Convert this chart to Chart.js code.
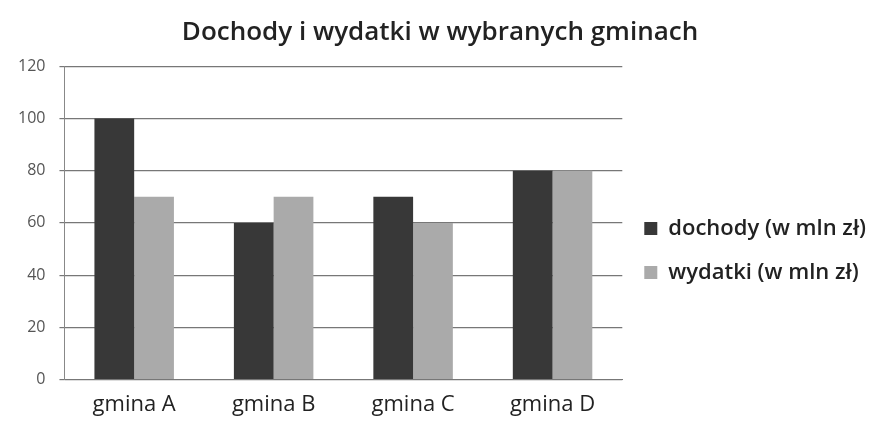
<!DOCTYPE html>
<html><head><meta charset="utf-8">
<script src="https://cdn.jsdelivr.net/npm/chart.js@4"></script>
<style>html,body{margin:0;padding:0;background:#fff}#wrap{width:880px;height:425px}</style>
</head><body><div id="wrap"><canvas id="c" width="880" height="425"></canvas></div>
<script>
const categories = ["gmina A", "gmina B", "gmina C", "gmina D"];
const dochody = [100, 60, 70, 80];
const wydatki = [70, 70, 60, 80];
const seriesNames = ["dochody (w mln zł)", "wydatki (w mln zł)"];
const titleText = "Dochody i wydatki w wybranych gminach";

new Chart(document.getElementById('c'), {
  type: 'bar',
  data: {
    labels: categories,
    datasets: [
      {label: seriesNames[0], data: dochody, backgroundColor: '#383838', borderWidth: 0, categoryPercentage: 0.57, barPercentage: 1.0},
      {label: seriesNames[1], data: wydatki, backgroundColor: '#aaaaaa', borderWidth: 0, categoryPercentage: 0.57, barPercentage: 1.0}
    ]
  },
  options: {
    responsive: false,
    animation: false,
    layout: {padding: {left: 4, right: 4, top: 4, bottom: -5}},
    plugins: {
      title: {display: true, text: titleText, color: '#222', font: {family: 'Open Sans', size: 26, weight: '600'}, padding: {top: 13, bottom: 18}},
      legend: {position: 'right', align: 'center', maxWidth: 300,
        title: {display: true, text: ' ', padding: 25, font: {size: 14}},
        labels: {boxWidth: 13, boxHeight: 13, color: '#222', padding: 22, font: {family: 'Open Sans', size: 22, weight: '600'}}},
      tooltip: {enabled: false}
    },
    scales: {
      x: {
        grid: {display: false, drawTicks: false},
        border: {color: '#777'},
        ticks: {color: '#222', font: {family: 'Open Sans', size: 22}, padding: 12}
      },
      y: {
        min: 0, max: 120,
        ticks: {stepSize: 20, color: '#555', font: {family: 'Open Sans', size: 16}, padding: 14},
        grid: {color: '#777', lineWidth: 1.2, tickLength: 5},
        border: {color: '#888'}
      }
    }
  }
});
</script></body></html>
